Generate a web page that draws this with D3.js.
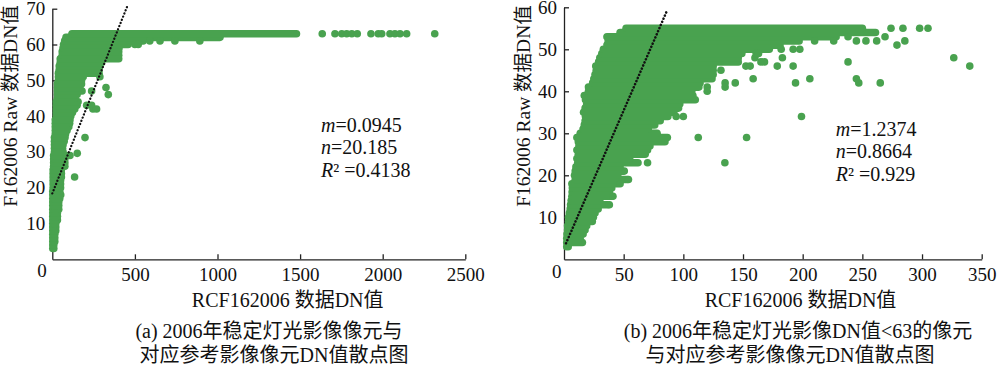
<!DOCTYPE html>
<html>
<head>
<meta charset="utf-8">
<script src="https://cdn.jsdelivr.net/npm/d3@7"></script>
<style>
    html, body { margin: 0; padding: 0; background: #fff; }
    text { font-family: "Liberation Serif", "Noto Sans CJK SC", serif; fill: #111; }
    .tick line, .domain { stroke: #222; stroke-width: 1.3; }
</style>
</head>
<body>
<div id="chart"></div>
<script>
// panel (a): DN level of each dense row, with where the row starts and ends on x
const levelsA = [3,4,5,6,7,8,9,10,11,12,13,14,15,16,17,18,19,20,21,22,23,24,25,26,27,28,29,30,31,32,33,34,35,36,37,38,39,40,41,42,43,44,45,46,47,48,49,50,51,52,53,54,55,56,57,58,59,60,61,62,63];
const startA = [3,3,3,3,3,3,3,3,3,3,3,3,3,3,3,3,3,5,5,5,5,5,5,8,8,8,8,13,13,13,13,13,18,18,18,18,18,24,24,24,24,24,31,31,31,31,31,37,37,37,42,42,48,48,60,60,65,68,75,83,119];
const endA = [9,9,15,15,15,21,21,21,31,31,31,39,39,39,45,51,45,50,50,50,55,55,55,76,76,76,86,65,62,65,72,77,80,89,100,105,107,112,122,136,150,156,136,150,180,166,177,177,187,283,283,287,298,402,402,402,404,459,550,1015,1478];
// panel (a): single points outside the dense rows
const extraXA = [135,107,151,198,208,238,246,268,238,339,325,288,500,520,590,652,742,893,1634,1711,1752,1782,1813,1846,1929,1973,1994,2044,2074,2105,2145,2315];
const extraYA = [23,29,29.6,34,43,43,42,42,47,46,48,51,60,60,61,61,61,61,63,63,63,63,63,63,63,63,63,63,63,63,63,63];
const fitXA = [0, 454];
const fitYA = [18.4, 70.7];

// panel (b)
const levelsB = [3,4,5,6,7,8,9,10,11,12,13,14,15,16,17,18,19,20,21,22,23,24,25,26,27,28,29,30,31,32,33,34,35,36,37,38,39,40,41,42,43,44,45,46,47,48,49,50,51,52,53,54,55];
const startB = [2.3,2.3,2.3,2.5,3,3,3.8,3.8,4.5,5.2,5.5,6,6.6,6.8,7,6.6,9.4,8.8,9.4,10,11.5,10.8,12,10.8,12.5,12,10.8,13.6,16,17,17.7,18,16.4,17.7,19,18,17,20.5,20.5,24,25,26,27,26.6,29,30,31.7,33,36,37,36,47,52];
const endB = [3.5,15.4,13.5,16,17.6,19,23.7,24.6,26,28.6,36.6,30,40,38,40,45,53,45,50.5,47,62,55,68,70,72,84.6,86.6,78,70.6,76,80.6,87,92,96,97,110,108,107,113,114,124,125,125,125,146,146,149,172,181,197,228,261,250];
const extraXB = [38,41,47,54,70,134.8,112.5,153,94,100,199,120,120,135,135,143.5,194,247,265,158.5,206,245,131.5,152.4,156,178.7,192,165,168,238,183,160,326.6,161,163,182,192,197.6,210,226,245,253,262,285.6,279,238,269,274,284,298,305,340];
const extraYB = [13,15,18,19,23,23,29,29,34,34,34,41,40,42,41,42,42,42,42,43,43,43,45,46,46,46,46,47,47,47,48,48,48,49,49,50,50,50,52,52,52,52,52,52,51,53,53,55,55,55,55,46];
const fitXB = [1.7, 86];
const fitYB = [3.8, 59];

const xTicksA = [500, 1000, 1500, 2000, 2500];
const yTicksA = [10, 20, 30, 40, 50, 60, 70];
const xTicksB = [50, 100, 150, 200, 250, 300, 350];
const yTicksB = [10, 20, 30, 40, 50, 60];

const green = "#49a24f";

const svg = d3.select("#chart").append("svg")
    .attr("width", 1000)
    .attr("height", 365)
    .style("display", "block");

function drawPanel(cfg) {
    const x = d3.scaleLinear().domain(cfg.xDomain).range(cfg.xRange);
    const y = d3.scaleLinear().domain(cfg.yDomain).range(cfg.yRange);
    const g = svg.append("g");

    // axes sit under the points
    g.append("g")
        .attr("transform", `translate(0,${cfg.yRange[0]})`)
        .call(d3.axisBottom(x).tickValues(cfg.xTicks).tickFormat(d3.format("d")).tickSizeInner(-5).tickSizeOuter(0).tickPadding(8.5))
        .call(a => a.selectAll("text").style("font-size", "19px"));
    g.append("g")
        .attr("transform", `translate(${cfg.xRange[0]},0)`)
        .call(d3.axisLeft(y).tickValues(cfg.yTicks).tickFormat(d3.format("d")).tickSizeInner(-5).tickSizeOuter(0).tickPadding(7))
        .call(a => a.selectAll("text").style("font-size", "19px"));

    // dense rows are strokes as wide as one dot
    g.selectAll(".row")
        .data(cfg.levels)
        .enter().append("line")
        .attr("class", "row")
        .attr("x1", (d, i) => x(cfg.start[i]))
        .attr("x2", (d, i) => x(cfg.end[i]))
        .attr("y1", d => y(d))
        .attr("y2", d => y(d))
        .attr("stroke", green)
        .attr("stroke-width", 7.6)
        .attr("stroke-linecap", "round");

    g.selectAll(".dot")
        .data(cfg.extraX)
        .enter().append("circle")
        .attr("class", "dot")
        .attr("cx", d => x(d))
        .attr("cy", (d, i) => y(cfg.extraY[i]))
        .attr("r", 3.8)
        .attr("fill", green);

    // trend line
    g.append("line")
        .attr("x1", x(cfg.fitX[0])).attr("y1", y(cfg.fitY[0]))
        .attr("x2", x(cfg.fitX[1])).attr("y2", y(cfg.fitY[1]))
        .attr("stroke", "#111")
        .attr("stroke-width", cfg.fitWidth)
        .attr("stroke-linecap", "round")
        .attr("stroke-dasharray", cfg.fitDash);

    g.append("text")
        .attr("x", cfg.zero[0]).attr("y", cfg.zero[1])
        .attr("text-anchor", "middle")
        .style("font-size", "19px")
        .text("0");

    g.append("text")
        .attr("x", cfg.xTitle[0]).attr("y", cfg.xTitle[1])
        .attr("text-anchor", "middle")
        .style("font-size", "20px")
        .text("RCF162006 数据DN值");

    g.append("text")
        .attr("transform", `translate(${cfg.yTitle[0]},${cfg.yTitle[1]}) rotate(-90)`)
        .attr("text-anchor", "middle")
        .style("font-size", "19.5px")
        .text("F162006 Raw 数据DN值");

    cfg.caption.forEach((line, i) => {
        g.append("text")
            .attr("x", cfg.captionX[i])
            .attr("y", cfg.captionY[i])
            .attr("text-anchor", "middle")
            .style("font-size", "20px")
            .text(line);
    });

    const stats = g.append("g").style("font-size", "20px");
    cfg.stats.forEach((s, i) => {
        const t = stats.append("text").attr("x", cfg.statsX).attr("y", cfg.statsY[i]);
        t.append("tspan").style("font-style", "italic").text(s[0]);
        t.append("tspan").text(s[1]);
    });
}

drawPanel({
    xDomain: [0, 2500], xRange: [52.3, 465.3],
    yDomain: [0, 70], yRange: [259.3, 8.7],
    xTicks: xTicksA, yTicks: yTicksA,
    levels: levelsA, start: startA, end: endA,
    extraX: extraXA, extraY: extraYA,
    fitX: fitXA, fitY: fitYA, fitWidth: 2.3, fitDash: "0.1 3.3",
    zero: [42, 277],
    xTitle: [287.7, 306.7], yTitle: [17, 106],
    caption: ["(a) 2006年稳定灯光影像像元与", "对应参考影像像元DN值散点图"],
    captionX: [269, 274], captionY: [337.7, 361.5],
    stats: [["m", "=0.0945"], ["n", "=20.185"], ["R", "² =0.4138"]],
    statsX: 321, statsY: [131.5, 154, 177]
});

drawPanel({
    xDomain: [0, 350], xRange: [564, 981.7],
    yDomain: [0, 60], yRange: [259.3, 7.3],
    xTicks: xTicksB, yTicks: yTicksB,
    levels: levelsB, start: startB, end: endB,
    extraX: extraXB, extraY: extraYB,
    fitX: fitXB, fitY: fitYB, fitWidth: 2.6, fitDash: "0.1 3.3",
    zero: [556.7, 278],
    xTitle: [800.5, 306.7], yTitle: [530, 106],
    caption: ["(b) 2006年稳定灯光影像DN值<63的像元", "与对应参考影像像元DN值散点图"],
    captionX: [798, 790], captionY: [337.7, 361.5],
    stats: [["m", "=1.2374"], ["n", "=0.8664"], ["R", "² =0.929"]],
    statsX: 835.7, statsY: [136, 158, 180.7]
});
</script>
</body>
</html>
